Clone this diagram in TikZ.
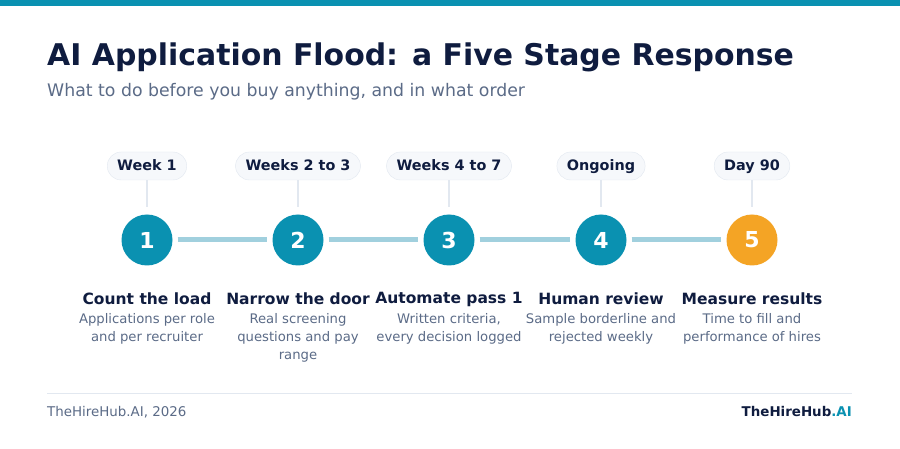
\documentclass[tikz,border=0pt]{standalone}
\usepackage{fontspec}
\setmainfont{DejaVu Sans}
\usetikzlibrary{positioning}

\definecolor{navy}{HTML}{0F1C3F}
\definecolor{slate}{HTML}{5B6B87}
\definecolor{brandteal}{HTML}{0A91B1}
\definecolor{amber}{HTML}{F4A425}
\definecolor{track}{HTML}{A1D0DE}
\definecolor{pillbg}{HTML}{F6F8FB}
\definecolor{pillline}{HTML}{E2E8F0}

\newcommand{\fs}[2]{\fontsize{#1}{#2}\selectfont}

\tikzset{
  pill/.style={draw=pillline, fill=pillbg, rounded corners=14pt, minimum height=28pt,
    inner xsep=10pt, text height=11pt, text depth=1pt, font=\fs{14.4}{17}\bfseries, text=navy},
  stepdot/.style={circle, minimum size=51pt, inner sep=0pt, font=\fs{22}{26}\bfseries, text=white},
  headtxt/.style={font=\fs{15.5}{19}\bfseries, text=navy},
  desctxt/.style={font=\fs{13.2}{18}, text=slate, align=center, inner sep=0pt},
}

\begin{document}
\begin{tikzpicture}[x=1pt, y=-1pt]

% Canvas and top bar
\useasboundingbox (0,0) rectangle (900,449);
\fill[white] (0,0) rectangle (900,449);
\fill[brandteal] (0,0) rectangle (900,6);

% Title and subtitle
\node[anchor=base west, inner sep=0pt, font=\fs{29.9}{36}\bfseries, text=navy] (title) at (47,66)
  {AI Application Flood: a Five Stage Response};
\node[anchor=base west, inner sep=0pt, font=\fs{17.3}{21}, text=slate] (subtitle) at (47,97)
  {What to do before you buy anything, and in what order};

% Stages
\foreach \i/\x/\wk/\col/\head/\desc in {
    1/147/{Week 1}/brandteal/{Count the load}/{Applications per role\\and per recruiter},
    2/298/{Weeks 2 to 3}/brandteal/{Narrow the door}/{Real screening\\questions and pay\\range},
    3/449/{Weeks 4 to 7}/brandteal/{Automate pass 1}/{Written criteria,\\every decision logged},
    4/601/{Ongoing}/brandteal/{Human review}/{Sample borderline and\\rejected weekly},
    5/752/{Day 90}/amber/{Measure results}/{Time to fill and\\performance of hires}} {
  \node[pill] (pill\i) at (\x,166) {\wk};
  \node[stepdot, fill=\col] (step\i) at (\x,240) {\i};
  \draw[pillline, line width=1.5pt, shorten >=7pt] (pill\i) -- (step\i);
  \node[headtxt] (head\i) at (\x,299) {\head};
  \node[desctxt, anchor=north] (desc\i) at (\x,313) {\desc};
}

% Track between stages
\foreach \i/\j in {1/2, 2/3, 3/4, 4/5} {
  \draw[track, line width=5pt, shorten <=5pt, shorten >=5pt] (step\i) -- (step\j);
}

% Footer
\draw[pillline, line width=1pt] (47,393) -- (852,393);
\node[anchor=base west, inner sep=0pt, font=\fs{13.4}{16}, text=slate] (credit) at (47,416)
  {TheHireHub.AI, 2026};
\node[anchor=base east, inner sep=0pt, font=\fs{13.4}{16}\bfseries, text=navy] (brand) at (852,416)
  {TheHireHub\textcolor{brandteal}{.AI}};

\end{tikzpicture}
\end{document}
